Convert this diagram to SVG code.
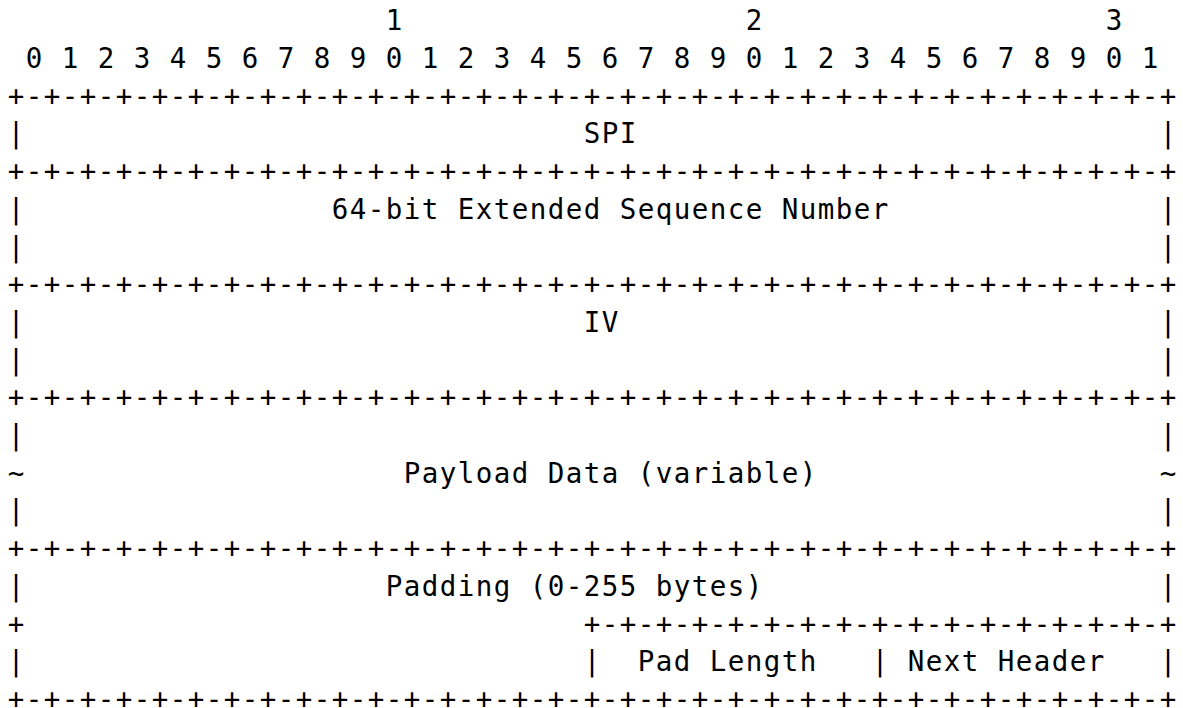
<svg xmlns="http://www.w3.org/2000/svg" width="1183" height="708" viewBox="0 0 1183 708" xml:space="preserve">
<style>
text{font-family:"DejaVu Sans Mono","Liberation Mono",monospace;font-size:27.5px;letter-spacing:1.444px;fill:#000;white-space:pre}
</style>
<rect width="1183" height="708" fill="#fff"/>
<g id="ruler">
<text x="385.7" y="30.3">1</text>
<text x="745.7" y="30.3">2</text>
<text x="1105.7" y="30.3">3</text>
<text x="25.7" y="68">0 1 2 3 4 5 6 7 8 9 0 1 2 3 4 5 6 7 8 9 0 1 2 3 4 5 6 7 8 9 0 1</text>
</g>
<g id="connectors">
<text x="7.7" y="105.7">+-+-+-+-+-+-+-+-+-+-+-+-+-+-+-+-+-+-+-+-+-+-+-+-+-+-+-+-+-+-+-+-+</text>
<text x="7.7" y="181.1">+-+-+-+-+-+-+-+-+-+-+-+-+-+-+-+-+-+-+-+-+-+-+-+-+-+-+-+-+-+-+-+-+</text>
<text x="7.7" y="294.2">+-+-+-+-+-+-+-+-+-+-+-+-+-+-+-+-+-+-+-+-+-+-+-+-+-+-+-+-+-+-+-+-+</text>
<text x="7.7" y="407.3">+-+-+-+-+-+-+-+-+-+-+-+-+-+-+-+-+-+-+-+-+-+-+-+-+-+-+-+-+-+-+-+-+</text>
<text x="7.7" y="558.1">+-+-+-+-+-+-+-+-+-+-+-+-+-+-+-+-+-+-+-+-+-+-+-+-+-+-+-+-+-+-+-+-+</text>
<text x="7.7" y="633.5">+</text>
<text x="583.7" y="633.5">+-+-+-+-+-+-+-+-+-+-+-+-+-+-+-+-+</text>
<text x="7.7" y="708.9">+-+-+-+-+-+-+-+-+-+-+-+-+-+-+-+-+-+-+-+-+-+-+-+-+-+-+-+-+-+-+-+-+</text>
<text x="7.7" y="143.4">|</text><text x="1159.7" y="143.4">|</text>
<text x="7.7" y="218.8">|</text><text x="1159.7" y="218.8">|</text>
<text x="7.7" y="256.5">|</text><text x="1159.7" y="256.5">|</text>
<text x="7.7" y="331.9">|</text><text x="1159.7" y="331.9">|</text>
<text x="7.7" y="369.6">|</text><text x="1159.7" y="369.6">|</text>
<text x="7.7" y="445">|</text><text x="1159.7" y="445">|</text>
<text x="7.7" y="482.7">~</text><text x="1159.7" y="482.7">~</text>
<text x="7.7" y="520.4">|</text><text x="1159.7" y="520.4">|</text>
<text x="7.7" y="595.8">|</text><text x="1159.7" y="595.8">|</text>
<text x="7.7" y="671.2">|</text><text x="583.7" y="671.2">|</text><text x="871.7" y="671.2">|</text><text x="1159.7" y="671.2">|</text>
</g>
<g id="spi">
<text x="583.7" y="143.4">SPI</text>
</g>
<g id="esn">
<text x="331.7" y="218.8">64-bit Extended Sequence Number</text>
</g>
<g id="iv">
<text x="583.7" y="331.9">IV</text>
</g>
<g id="payload">
<text x="403.7" y="482.7">Payload Data (variable)</text>
</g>
<g id="padding">
<text x="385.7" y="595.8">Padding (0-255 bytes)</text>
</g>
<g id="pad-length">
<text x="637.7" y="671.2">Pad Length</text>
</g>
<g id="next-header">
<text x="907.7" y="671.2">Next Header</text>
</g>
</svg>
